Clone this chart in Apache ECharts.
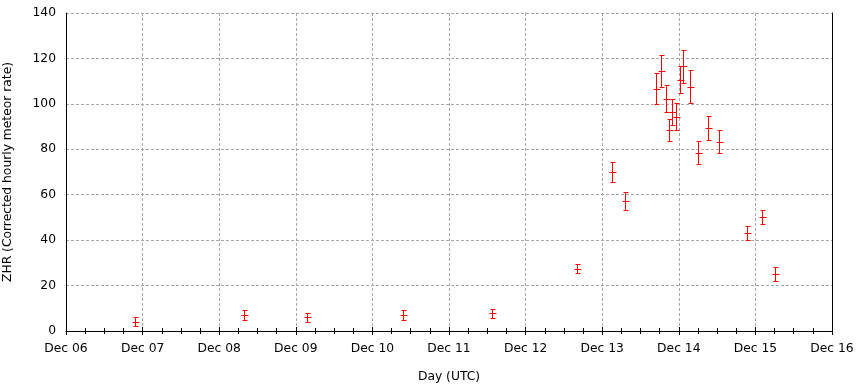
<!DOCTYPE html>
<html><head><meta charset="utf-8">
<script src="https://cdn.jsdelivr.net/npm/echarts@6/dist/echarts.min.js"></script>
<style>html,body{margin:0;padding:0;background:#fff}#c{width:859px;height:384px}</style>
</head><body><div id="c"></div>
<script>
// Day of December (UTC)
var days = [6.90, 8.32, 9.14, 10.40, 11.56, 12.675, 13.13, 13.30, 13.706, 13.77, 13.83, 13.876, 13.915, 13.96, 14.015, 14.06, 14.14, 14.245, 14.375, 14.53, 14.895, 15.08, 15.25];
var zhr  = [4.0, 7.1, 6.0, 7.1, 7.8, 27.4, 70.1, 57.3, 106.6, 114.5, 102.3, 88.5, 96.4, 94.4, 110.7, 116.5, 107.6, 78.5, 89.4, 83.3, 43.1, 50.2, 25.0];
var errs = [2.0, 2.2, 1.9, 2.2, 2.1, 1.9, 4.3, 4.0, 6.8, 7.1, 6.0, 5.0, 5.9, 6.0, 6.0, 7.1, 7.1, 5.1, 5.2, 5.1, 3.1, 3.1, 3.1];
var xTickLabels = ["Dec 06","Dec 07","Dec 08","Dec 09","Dec 10","Dec 11","Dec 12","Dec 13","Dec 14","Dec 15","Dec 16"];
var yTicks = [0, 20, 40, 60, 80, 100, 120, 140];

var data = days.map(function (d, i) { return [d, zhr[i], zhr[i] - errs[i], zhr[i] + errs[i]]; });
var FONT = 'DejaVu Sans';
var FS = 12.3;
var chart = echarts.init(document.getElementById('c'));
var axisLine = { show: true, lineStyle: { color: '#000', width: 1 } };
var grid = { show: true, lineStyle: { color: '#a8a8a8', type: [3, 2], width: 1 } };
chart.setOption({
  animation: false,
  grid: { left: 66, right: 27, top: 13, bottom: 53, outerBoundsMode: 'none', containLabel: false },
  xAxis: [{
    type: 'value', min: 6, max: 16, interval: 1, position: 'bottom',
    axisLine: axisLine,
    axisTick: { show: true, inside: true, length: 4, lineStyle: { color: '#000' } },
    minorTick: { show: true, splitNumber: 4, length: 3, lineStyle: { color: '#000' } },
    splitLine: grid,
    axisLabel: { color: '#000', fontFamily: FONT, fontSize: FS, margin: 12,
      formatter: function (v) { return xTickLabels[Math.round(v - 6)]; } },
    name: 'Day (UTC)', nameLocation: 'middle', nameGap: 40,
    nameTextStyle: { color: '#000', fontFamily: FONT, fontSize: FS }
  }, {
    type: 'value', min: 6, max: 16, interval: 1, position: 'top',
    axisLine: axisLine,
    axisTick: { show: true, inside: true, length: 4, lineStyle: { color: '#000' } },
    minorTick: { show: true, splitNumber: 4, length: 3, lineStyle: { color: '#000' } },
    splitLine: { show: false }, axisLabel: { show: false }
  }],
  yAxis: [{
    type: 'value', min: yTicks[0], max: yTicks[yTicks.length - 1], interval: 20,
    axisLine: axisLine,
    axisTick: { show: false },
    splitLine: grid,
    axisLabel: { color: '#000', fontFamily: FONT, fontSize: FS, margin: 10 },
    name: 'ZHR (Corrected hourly meteor rate)', nameLocation: 'middle', nameGap: 52,
    nameTextStyle: { color: '#000', fontFamily: FONT, fontSize: FS }
  }, {
    type: 'value', min: 0, max: 140, interval: 20, position: 'right',
    axisLine: axisLine, axisTick: { show: false }, splitLine: { show: false }, axisLabel: { show: false }
  }],
  series: [{
    type: 'custom',
    data: data,
    encode: { x: 0, y: 1 },
    renderItem: function (params, api) {
      var p = api.coord([api.value(0), api.value(1)]);
      var lo = api.coord([api.value(0), api.value(2)]);
      var hi = api.coord([api.value(0), api.value(3)]);
      var x = Math.round(p[0]) + 0.5;
      var y = Math.round(p[1]) + 0.5;
      var yl = Math.round(lo[1]) + 0.5, yh = Math.round(hi[1]) + 0.5;
      var st = { stroke: '#ff0000', lineWidth: 1, fill: null };
      return { type: 'group', children: [
        { type: 'line', shape: { x1: x, y1: yl, x2: x, y2: yh }, style: st },
        { type: 'line', shape: { x1: x - 2, y1: yl, x2: x + 3, y2: yl }, style: st },
        { type: 'line', shape: { x1: x - 2, y1: yh, x2: x + 3, y2: yh }, style: st },
        { type: 'line', shape: { x1: x - 3, y1: y, x2: x + 4, y2: y }, style: st }
      ]};
    }
  }]
});
</script></body></html>
